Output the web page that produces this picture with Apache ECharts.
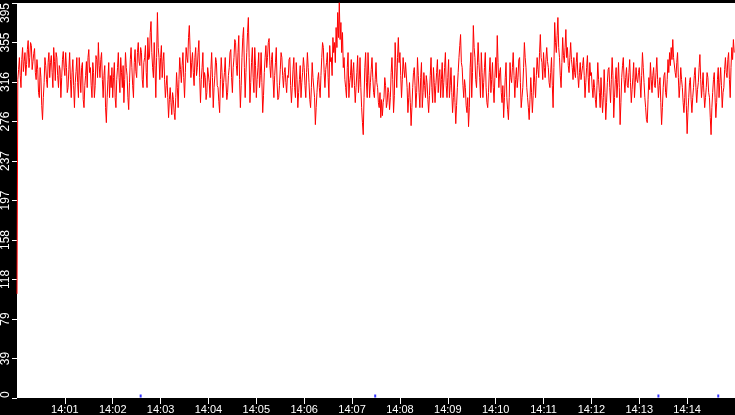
<!DOCTYPE html>
<html>
<head>
<meta charset="utf-8">
<script src="https://cdn.jsdelivr.net/npm/echarts@6/dist/echarts.min.js"></script>
<style>html,body{margin:0;padding:0;background:#000;}#c{width:735px;height:415px;}</style>
</head>
<body>
<div id="c"></div>
<script>
// time base (UTC)
var startTime = Date.UTC(2024, 0, 1, 14, 0, 0);
var endTime = Date.UTC(2024, 0, 1, 14, 15, 0);
// y axis scale
var yMax = 394.5;
var yInterval = 39.45;
// values, one array per minute (about 1 s samples)
var m00 = [104,318,328,340,322,310,338,350,326,336,345,322,333,348,357,330,340,355,352,328,336,344,349,325,318,338,328,305,300,330,320,292,278,300,315,340,332,318,310,335,345,320,335,342,325,310,350,336,317,345,340,322,310,332,328,300,320,338,346,330];
var m01 = [322,345,330,305,310,328,345,318,300,325,338,312,290,315,326,340,315,300,340,322,305,330,335,298,290,312,322,336,310,340,348,325,330,312,300,335,325,300,312,342,338,320,355,332,320,338,345,318,300,322,332,290,275,300,318,335,300,322,310,330];
var m02 = [300,320,335,300,290,318,330,345,320,305,340,325,310,332,295,318,345,330,322,300,288,315,338,350,330,312,300,335,348,326,320,345,355,336,332,350,345,318,310,335,340,352,325,310,360,338,340,365,376,345,330,320,355,332,300,340,385,350,340,318];
var m03 = [340,352,320,336,345,318,300,312,322,300,280,298,310,295,283,305,298,285,278,300,325,310,290,318,340,328,315,332,345,320,300,325,350,340,335,360,372,348,320,335,345,325,312,340,350,322,330,345,357,320,295,318,330,345,310,325,320,298,305,330];
var m04 = [330,315,300,328,345,320,290,310,322,340,335,312,310,296,285,318,340,325,300,315,325,340,315,298,305,322,330,345,348,320,305,330,340,358,355,332,322,345,362,318,290,312,340,360,370,330,300,325,345,365,380,340,295,315,335,350,320,305,350,332];
var m05 = [300,318,330,345,310,322,345,315,285,302,325,340,352,330,340,355,359,332,320,338,345,318,300,322,335,350,315,298,300,312,328,345,340,322,310,325,330,315,305,322,320,338,340,312,295,310,328,340,310,300,335,318,290,305,318,332,300,315,325,340];
var m06 = [330,312,300,325,345,330,315,298,290,310,335,320,320,300,273,290,305,318,325,310,300,322,340,355,350,325,310,328,335,345,320,300,352,336,340,322,360,345,355,335,370,350,385,360,395,358,375,345,365,330,340,318,310,300,330,345,300,315,322,338];
var m07 = [310,325,335,312,295,310,325,342,305,318,340,310,290,275,263,300,330,345,315,300,345,322,300,315,328,340,320,305,300,318,335,315,310,295,290,305,280,298,282,295,300,320,312,290,295,310,305,288,300,325,340,318,285,302,355,330,310,340,360,335];
var m08 = [345,322,300,318,340,328,320,335,335,310,285,300,315,295,272,290,310,325,330,312,290,305,340,322,305,290,320,335,290,305,325,312,300,322,315,298,285,302,322,340,310,295,330,315,295,312,325,338,305,320,328,300,318,335,300,315,330,345,312,300];
var m09 = [320,338,300,312,330,305,285,300,322,295,274,292,310,325,340,352,363,335,330,312,300,318,310,292,285,300,271,290,330,345,300,325,372,350,340,318,310,332,355,335,320,300,345,325,300,315,330,345,310,295,290,305,325,340,305,318,335,310,295,320];
var m10 = [340,320,362,335,310,325,330,305,295,312,280,300,320,335,300,288,278,300,335,320,315,330,345,322,300,318,330,310,320,338,340,315,290,300,310,330,355,340,330,310,300,290,278,298,320,305,285,302,330,315,300,322,340,328,320,345,363,340,335,318];
var m11 = [345,330,320,338,350,336,330,315,310,325,340,312,290,330,375,355,345,362,380,350,340,322,310,335,360,342,335,350,368,340,350,332,325,340,355,338,330,318,340,325,320,335,345,322,310,325,335,318,318,332,340,322,300,315,330,342,320,305,335,322];
var m12 = [325,310,300,318,310,298,290,312,335,318,305,290,320,302,285,300,328,305,278,295,315,328,330,310,295,318,340,322,280,300,318,330,300,315,335,310,273,295,320,332,340,318,305,320,330,312,310,325,338,315,295,308,320,335,300,315,330,318,315,325];
var m13 = [330,315,300,322,345,330,315,300,290,278,275,298,320,308,335,318,305,322,330,312,310,325,340,318,300,312,320,295,273,290,310,322,325,305,300,318,338,325,345,332,350,338,358,340,340,325,320,335,345,320,300,312,330,318,310,295,285,300,320,292];
var m14 = [264,285,300,315,320,298,285,300,310,322,330,310,295,308,315,330,343,318,300,312,325,305,290,300,310,325,320,305,300,280,263,290,305,318,325,300,280,295,318,330,300,315,330,312,290,305,310,328,340,325,320,338,345,318,300,330,350,338,358,345];
// small blue markers near zero (time offsets in seconds, value)
var markerSeconds = [155, 449, 804, 879];
var markerValue = 2;

var minutes = [m00,m01,m02,m03,m04,m05,m06,m07,m08,m09,m10,m11,m12,m13,m14];
var lineData = [];
minutes.forEach(function (arr, mi) {
  var step = 60000 / arr.length;
  arr.forEach(function (v, i) {
    lineData.push([startTime + mi * 60000 + i * step, v]);
  });
});
var markerData = markerSeconds.map(function (s) { return [startTime + s * 1000, markerValue]; });

function pad(n) { return (n < 10 ? '0' : '') + n; }

var chart = echarts.init(document.getElementById('c'));
chart.setOption({
  animation: false,
  backgroundColor: '#000',
  grid: { left: 16, right: 0, top: 0, bottom: 17, show: true, backgroundColor: '#fff', borderWidth: 0, containLabel: false },
  xAxis: {
    type: 'value',
    min: startTime,
    max: endTime,
    interval: 60000,
    splitLine: { show: false },
    axisLine: { show: false },
    axisTick: { show: true, length: 6, lineStyle: { color: '#fff', width: 1 } },
    axisLabel: {
      color: '#fff', fontFamily: 'Liberation Sans', fontSize: 11, margin: 6,
      showMinLabel: false, showMaxLabel: false,
      formatter: function (v) { var d = new Date(v); return pad(d.getUTCHours()) + ':' + pad(d.getUTCMinutes()); }
    }
  },
  yAxis: {
    type: 'value',
    min: 0,
    max: yMax,
    interval: yInterval,
    splitLine: { show: false },
    axisLine: { show: false },
    axisTick: { show: true, length: 5, lineStyle: { color: '#fff', width: 1 } },
    axisLabel: {
      color: '#fff', fontFamily: 'Liberation Sans', fontSize: 12, margin: 5, rotate: 90,
      alignMaxLabel: 'right', alignMinLabel: 'left',
      showMinLabel: true, showMaxLabel: true,
      formatter: function (v) { return String(Math.round(v + 1e-6)); }
    }
  },
  series: [
    {
      type: 'line',
      data: lineData,
      showSymbol: false,
      symbol: 'none',
      sampling: 'none',
      lineStyle: { color: '#ff0000', width: 1 },
      z: 3
    },
    {
      type: 'scatter',
      data: markerData,
      symbol: 'rect',
      symbolSize: [2, 3],
      itemStyle: { color: '#0000ff' },
      z: 4
    }
  ]
});
</script>
</body>
</html>
